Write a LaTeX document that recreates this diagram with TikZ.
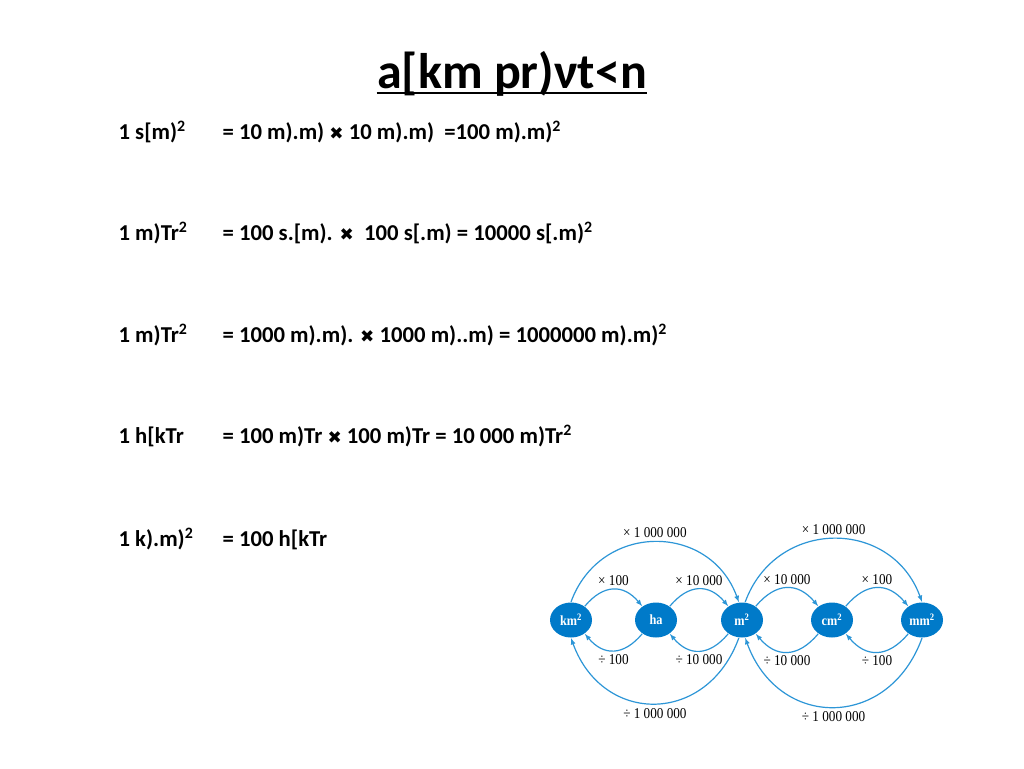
\documentclass[tikz,border=0pt]{standalone}
\usepackage{fontspec}
\setmainfont{Carlito}
\newfontfamily\symfont{DejaVu Sans}
\newfontfamily\labelfont[FakeStretch=0.88]{Liberation Serif}
\usetikzlibrary{shapes.geometric}
\definecolor{unitblue}{RGB}{0,122,201}
\definecolor{arcblue}{RGB}{45,150,215}
\newcommand{\crossx}{{\symfont\fontsize{17}{17}\selectfont ✖}}
\newcommand{\sq}{\textsuperscript{2}}

\begin{document}
\begin{tikzpicture}[x=1pt,y=1pt,line width=1.2pt]
  \useasboundingbox (0,0) rectangle (1024,-768);
  \fill[white] (0,0) rectangle (1024,-768);

  % title
  \node[anchor=base,inner sep=0,font=\fontsize{50}{50}\selectfont\bfseries] (title) at (512,-88) {a[km pr)νt<n};
  \draw[line width=2.5pt] ([yshift=-5pt]title.base west) -- ([yshift=-5pt]title.base east);

  % conversions
  \begin{scope}[every node/.style={anchor=base west,inner sep=0,font=\fontsize{22.7}{24}\selectfont\bfseries}]
    \node (lhs1) at (118,-139) {1 s[m)\sq};
    \node (rhs1) at (222,-139) {= 10 m).m) \crossx{} 10 m).m) \ =100 m).m)\sq};
    \node (lhs2) at (118,-240) {1 m)Tr\sq};
    \node (rhs2) at (222,-240) {= 100 s.[m). \crossx{} \ 100 s[.m) = 10000 s[.m)\sq};
    \node (lhs3) at (118,-342) {1 m)Tr\sq};
    \node (rhs3) at (222,-342) {= 1000 m).m). \crossx{} 1000 m)..m) = 1000000 m).m)\sq};
    \node (lhs4) at (118,-443) {1 h[kTr};
    \node (rhs4) at (222,-443) {= 100 m)Tr \crossx{} 100 m)Tr = 10 000 m)Tr\sq};
    \node (lhs5) at (118,-546) {1 k).m)\sq};
    \node (rhs5) at (222,-546) {= 100 h[kTr};
  \end{scope}

  % units
  \begin{scope}[every node/.style={ellipse,fill=unitblue,text=white,minimum width=42pt,minimum height=35pt,inner sep=0,font=\labelfont\fontsize{14}{14}\selectfont\bfseries}]
    \node (km) at (571,-620) {km\sq};
    \node (ha) at (656,-620) {ha};
    \node (m)  at (742,-620) {m\sq};
    \node (cm) at (832,-620) {cm\sq};
    \node (mm) at (922,-620) {mm\sq};
  \end{scope}

  \begin{scope}[arcblue,every node/.style={text=black,inner sep=1pt,font=\labelfont\fontsize{15}{15}\selectfont}]
    \foreach \from/\to/\factor in {km/ha/100, ha/m/10 000, m/cm/10 000, cm/mm/100} {
      \path [-latex] (\from.45) edge[out=50,in=130,looseness=1.3] node[above=2pt]{× \factor} (\to.135);
      \path [-latex] (\to.-135) edge[out=-130,in=-50,looseness=1.3] node[below=2pt]{÷ \factor} (\from.-45);
    }
    \path [-latex] (km.90) edge[out=70,in=110,looseness=1.3] node[above=3pt]{× 1 000 000} (m.100);
    \path [-latex] (m.80) edge[out=70,in=110,looseness=1.3] node[above=3pt]{× 1 000 000} (mm.90);
    \path [-latex] (m.-100) edge[out=-110,in=-70,looseness=1.42] node[below=3pt]{÷ 1 000 000} (km.-90);
    \path [-latex] (mm.-90) edge[out=-110,in=-70,looseness=1.42] node[below=3pt]{÷ 1 000 000} (m.-80);
  \end{scope}
\end{tikzpicture}
\end{document}
